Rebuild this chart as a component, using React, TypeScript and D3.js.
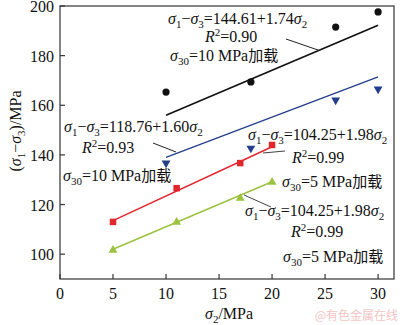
import React from "react";
import * as d3 from "d3";

// ---- data ----
const xTicks = [0, 5, 10, 15, 20, 25, 30];
const yTicks = [100, 120, 140, 160, 180, 200];

const x10 = [10, 18, 26, 30];
const blackPts = [165.3, 169.4, 191.5, 197.6];
const bluePts = [136.7, 142.7, 162.1, 166.5];

const x5 = [5, 11, 17, 20];
const redPts = [113, 126.6, 136.7, 144];
const greenPts = [101.6, 112.9, 122.6, 129];

const fitX10 = [10, 30];
const blackFit = [156, 192.2];
const blueFit = [139, 171.4];
const fitX5 = [5, 20];
const redFit = [113.5, 143.3];
const greenFit = [102, 129.2];

const W = 400;
const H = 325;
const serif = "'Liberation Serif', 'Times New Roman', serif";
const cjk = "'Noto Sans CJK SC', sans-serif";

const COLORS = {
  black: "#111111",
  blue: "#243f8a",
  red: "#e3262d",
  green: "#9bc33f",
};

const x = d3.scaleLinear().domain([0, 31.5]).range([60, 394]);
const y = d3.scaleLinear().domain([90, 200]).range([279, 6]);

const line = d3
  .line<[number, number]>()
  .x((d) => x(d[0]))
  .y((d) => y(d[1]));

const zip = (a: number[], b: number[]) => a.map((v, i) => [v, b[i]] as [number, number]);

const FS = 16;
const SUB = 11;

const base = { fontFamily: serif, fontSize: FS, fill: "#111" } as React.CSSProperties;
const it = { fontStyle: "italic", fontSize: FS } as React.CSSProperties;
const sm = { fontSize: SUB } as React.CSSProperties;
const nm = { fontSize: FS } as React.CSSProperties;

function Eq({ tx, ty, text }: { tx: number; ty: number; text: string }) {
  return (
    <text x={tx} y={ty} style={base}>
      <tspan style={it}>σ</tspan>
      <tspan dy={4} style={sm}>1</tspan>
      <tspan dy={-4} style={nm}>−</tspan>
      <tspan style={it}>σ</tspan>
      <tspan dy={4} style={sm}>3</tspan>
      <tspan dy={-4} style={nm}>{text}</tspan>
      <tspan style={it}>σ</tspan>
      <tspan dy={4} style={sm}>2</tspan>
    </text>
  );
}

function R2({ tx, ty, v }: { tx: number; ty: number; v: string }) {
  return (
    <text x={tx} y={ty} style={base}>
      <tspan style={it}>R</tspan>
      <tspan dy={-6} style={sm}>2</tspan>
      <tspan dy={6} style={nm}>{"=" + v}</tspan>
    </text>
  );
}

function Load({ tx, ty, v }: { tx: number; ty: number; v: string }) {
  return (
    <text x={tx} y={ty} style={base}>
      <tspan style={it}>σ</tspan>
      <tspan dy={4} style={sm}>30</tspan>
      <tspan dy={-4} style={nm}>{"=" + v + " MPa"}</tspan>
      <tspan style={{ fontFamily: cjk, fontSize: 15 }}>加载</tspan>
    </text>
  );
}

export default function App() {
  const tri = d3.symbol(d3.symbolTriangle, 34)() as string;
  const sq = 6.5;
  return (
    <svg
      width={W}
      height={H}
      viewBox={`0 0 ${W} ${H}`}
      style={{ position: "absolute", left: 0, top: 0, background: "#fff" }}
    >
      <rect x={0} y={0} width={W} height={H} fill="#fff" />
      {/* frame */}
      <rect
        x={x(0)}
        y={y(200)}
        width={x(31.5) - x(0)}
        height={y(90) - y(200)}
        fill="none"
        stroke="#333"
        strokeWidth={1.2}
      />
      {/* x ticks */}
      {xTicks.map((t) => (
        <g key={"x" + t}>
          <line x1={x(t)} x2={x(t)} y1={y(90)} y2={y(90) - 5} stroke="#333" strokeWidth={1.2} />
          <text x={x(t)} y={299} textAnchor="middle" style={base}>
            {t}
          </text>
        </g>
      ))}
      {/* y ticks */}
      {yTicks.map((t) => (
        <g key={"y" + t}>
          <line x1={x(0)} x2={x(0) + 5} y1={y(t)} y2={y(t)} stroke="#333" strokeWidth={1.2} />
          <text x={54} y={y(t) + 6} textAnchor="end" style={base}>
            {t}
          </text>
        </g>
      ))}
      {/* axis labels */}
      <text x={205} y={319} style={base}>
        <tspan style={it}>σ</tspan>
        <tspan dy={4} style={sm}>2</tspan>
        <tspan dy={-4} style={nm}>/MPa</tspan>
      </text>
      <text transform={`translate(21,131) rotate(-90)`} textAnchor="middle" style={base}>
        <tspan style={nm}>(</tspan>
        <tspan style={it}>σ</tspan>
        <tspan dy={4} style={sm}>1</tspan>
        <tspan dy={-4} style={nm}>−</tspan>
        <tspan style={it}>σ</tspan>
        <tspan dy={4} style={sm}>3</tspan>
        <tspan dy={-4} style={nm}>)/MPa</tspan>
      </text>

      {/* fitted lines */}
      <path d={line(zip(fitX10, blackFit)) || ""} stroke={COLORS.black} strokeWidth={1.6} fill="none" />
      <path d={line(zip(fitX10, blueFit)) || ""} stroke={COLORS.blue} strokeWidth={1.3} fill="none" />
      <path d={line(zip(fitX5, redFit)) || ""} stroke={COLORS.red} strokeWidth={1.5} fill="none" />
      <path d={line(zip(fitX5, greenFit)) || ""} stroke={COLORS.green} strokeWidth={1.5} fill="none" />

      {/* markers */}
      {x10.map((v, i) => (
        <circle key={"b" + i} cx={x(v)} cy={y(blackPts[i])} r={3.6} fill={COLORS.black} />
      ))}
      {x10.map((v, i) => (
        <path
          key={"u" + i}
          d={tri}
          transform={`translate(${x(v)},${y(bluePts[i])}) rotate(180)`}
          fill={COLORS.blue}
        />
      ))}
      {x5.map((v, i) => (
        <rect
          key={"r" + i}
          x={x(v) - sq / 2}
          y={y(redPts[i]) - sq / 2}
          width={sq}
          height={sq}
          fill={COLORS.red}
        />
      ))}
      {x5.map((v, i) => (
        <path
          key={"g" + i}
          d={tri}
          transform={`translate(${x(v)},${y(greenPts[i])})`}
          fill={COLORS.green}
        />
      ))}

      {/* leader lines */}
      <line x1={286} y1={39} x2={318} y2={50} stroke="#222" strokeWidth={1} />
      <line x1={153} y1={143} x2={176} y2={152} stroke="#222" strokeWidth={1} />
      <line x1={263} y1={153} x2={285} y2={151} stroke="#444" strokeWidth={1} />
      <line x1={244} y1={195} x2={271} y2={207} stroke="#444" strokeWidth={1} />

      {/* annotations */}
      <Eq tx={168} ty={24} text="=144.61+1.74" />
      <R2 tx={205} ty={42} v="0.90" />
      <Load tx={170} ty={61} v="10" />

      <Eq tx={64} ty={132} text="=118.76+1.60" />
      <R2 tx={82} ty={153} v="0.93" />
      <Load tx={63} ty={181} v="10" />

      <Eq tx={248} ty={140} text="=104.25+1.98" />
      <R2 tx={292} ty={163} v="0.99" />
      <Load tx={282} ty={187} v="5" />

      <Eq tx={245} ty={216} text="=104.25+1.98" />
      <R2 tx={291} ty={237} v="0.99" />
      <Load tx={283} ty={262} v="5" />

      {/* watermark */}
      <text x={398} y={320} textAnchor="end" style={{ fontFamily: cjk, fontSize: 12, fill: "#f2c4c4" }}>
        @有色金属在线
      </text>
    </svg>
  );
}
